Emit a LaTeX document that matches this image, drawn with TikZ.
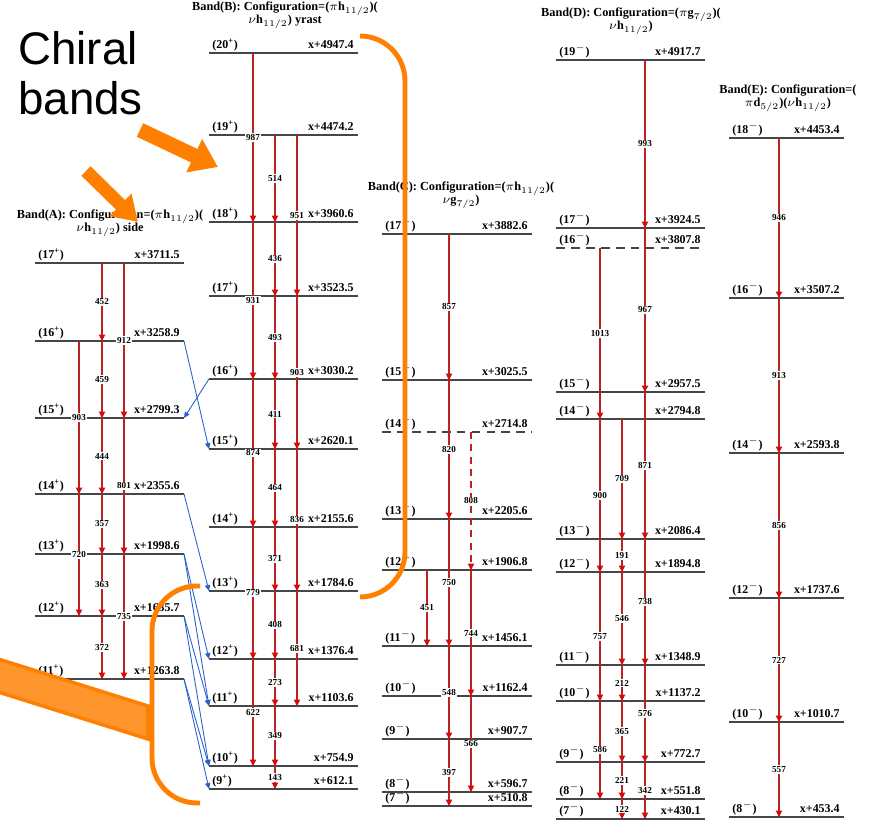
\documentclass[tikz,border=0pt]{standalone}
\usepackage{fontspec}
\setmainfont{Liberation Serif}
\setsansfont{Liberation Sans}
\usetikzlibrary{arrows.meta, calc}

\definecolor{lvlgray}{RGB}{70,70,70}
\definecolor{gamred}{RGB}{185,35,35}
\definecolor{tipred}{RGB}{215,10,10}
\definecolor{linkblue}{RGB}{40,95,205}
\definecolor{chiorange}{RGB}{255,128,0}
\definecolor{chilight}{RGB}{255,150,45}

% one level: band, left x, right x, parity, spin, y, energy, line style
\newcommand{\onelevel}[8]{%
  \coordinate (#1#5l) at (#2,#6);
  \coordinate (#1#5r) at (#3,#6);
  \draw[lvl,#8] (#1#5l) -- (#1#5r);
  \node[spin] (s#1#5) at ($(#1#5l)+(3,-4)$) {(#5\textsuperscript{#4})};
  \node[ener] (e#1#5) at ($(#1#5r)+(-4,-4)$) {x+#7};
}
\newcommand{\levels}[5]{%
  \foreach \n/\y/\E in {#5} {\onelevel{#1}{#2}{#3}{#4}{\n}{\y}{\E}{solid}}}
% gamma: column, band, from, to, energy
\newcommand{\gam}[6][]{%
  \draw[gam,#1] (#2 |- #3#4l) -- node[glab] (g#2-#4-#5) {#6} (#2 |- #3#5l);}

\begin{document}
\begin{tikzpicture}[x=0.02cm, y=-0.02cm,
  lvl/.style={draw=lvlgray, line width=0.8pt},
  spin/.style={font=\bfseries\fontsize{6.8}{8}\selectfont, inner sep=0, anchor=base west},
  ener/.style={font=\bfseries\fontsize{6.8}{8}\selectfont, inner sep=0, anchor=base east},
  gam/.style={draw=gamred, line width=0.6pt, -{Triangle[length=3.6pt,width=3.6pt,color=tipred]}},
  glab/.style={font=\bfseries\fontsize{5.2}{6}\selectfont, fill=white, inner sep=0.6pt},
  link/.style={draw=linkblue, line width=0.5pt, -{Triangle[length=3.4pt,width=3pt]}},
  head/.style={font=\bfseries\fontsize{7}{7.5}\selectfont, align=center, anchor=base, inner sep=0},
  brack/.style={draw=chiorange, line width=2.8pt, rounded corners=0.9cm},
  fat/.style={draw=chiorange, line width=#1}]
\useasboundingbox (0,0) rectangle (873,820);

% headers (anchored at the baseline of their second line)
\node[head] (hA) at (110,232) {Band(A): Configuration=(\(\pi\)h\(_{11/2}\))(\\\(\nu\)h\(_{11/2}\)) side};
\node[head] (hB) at (285,24) {Band(B): Configuration=(\(\pi\)h\(_{11/2}\))(\\\(\nu\)h\(_{11/2}\)) yrast};
\node[head] (hC) at (461,204) {Band(C): Configuration=(\(\pi\)h\(_{11/2}\))(\\\(\nu\)g\(_{7/2}\))};
\node[head] (hD) at (631,30) {Band(D): Configuration=(\(\pi\)g\(_{7/2}\))(\\\(\nu\)h\(_{11/2}\))};
\node[head] (hE) at (788,107) {Band(E): Configuration=(\\\(\pi\)d\(_{5/2}\))(\(\nu\)h\(_{11/2}\))};

% levels
\levels{A}{35}{184}{+}{17/263/3711.5, 16/341/3258.9, 15/418/2799.3, 14/494/2355.6,
  13/554/1998.6, 12/616/1635.7, 11/679/1263.8}
\levels{B}{209}{358}{+}{20/53/4947.4, 19/135/4474.2, 18/222/3960.6, 17/296/3523.5,
  16/379/3030.2, 15/449/2620.1, 14/527/2155.6, 13/591/1784.6, 12/659/1376.4,
  11/706/1103.6, 10/766/754.9, 9/789/612.1}
\levels{C}{382}{532}{$-$}{17/234/3882.6, 15/380/3025.5, 13/519/2205.6, 12/570/1906.8,
  11/646/1456.1, 10/696/1162.4, 9/739/907.7, 8/792/596.7, 7/806/510.8}
\onelevel{C}{382}{532}{$-$}{14}{432}{2714.8}{dash pattern=on 5pt off 3.5pt}
\levels{D}{556}{705}{$-$}{19/60/4917.7, 17/228/3924.5, 15/392/2957.5, 14/419/2794.8,
  13/539/2086.4, 12/572/1894.8, 11/665/1348.9, 10/701/1137.2, 9/762/772.7,
  8/799/551.8, 7/819/430.1}
\onelevel{D}{556}{705}{$-$}{16}{248}{3807.8}{dash pattern=on 5pt off 3.5pt}
\levels{E}{729}{844}{$-$}{18/138/4453.4, 16/298/3507.2, 14/453/2593.8, 12/598/1737.6,
  10/722/1010.7, 8/817/453.4}

% gamma columns
\coordinate (A1) at (79,0);  \coordinate (A2) at (102,0); \coordinate (A3) at (124,0);
\coordinate (B1) at (253,0); \coordinate (B2) at (275,0); \coordinate (B3) at (297,0);
\coordinate (C1) at (427,0); \coordinate (C2) at (449,0); \coordinate (C3) at (471,0);
\coordinate (D1) at (600,0); \coordinate (D2) at (622,0); \coordinate (D3) at (645,0);
\coordinate (E1) at (779,0);

% band A
\foreach \a/\b/\t in {17/16/452, 16/15/459, 15/14/444, 14/13/357, 13/12/363, 12/11/372}
  {\gam{A2}{A}{\a}{\b}{\t}}
\foreach \a/\b/\t in {17/15/912, 15/13/801, 13/11/735} {\gam{A3}{A}{\a}{\b}{\t}}
\foreach \a/\b/\t in {16/14/903, 14/12/720} {\gam{A1}{A}{\a}{\b}{\t}}

% band B
\foreach \a/\b/\t in {20/18/987, 18/16/931, 16/14/874, 14/12/779, 12/10/622}
  {\gam{B1}{B}{\a}{\b}{\t}}
\foreach \a/\b/\t in {19/18/514, 18/17/436, 17/16/493, 16/15/411, 15/14/464,
  14/13/371, 13/12/408, 12/11/273, 11/10/349, 10/9/143} {\gam{B2}{B}{\a}{\b}{\t}}
\foreach \a/\b/\t in {19/17/951, 17/15/903, 15/13/836, 13/11/681} {\gam{B3}{B}{\a}{\b}{\t}}

% band C
\foreach \a/\b/\t in {17/15/857, 15/13/820, 13/11/750, 11/9/548, 9/7/397}
  {\gam{C2}{C}{\a}{\b}{\t}}
\gam[dash pattern=on 4pt off 3pt]{C3}{C}{14}{12}{808}
\gam{C3}{C}{12}{10}{744}
\gam{C3}{C}{10}{8}{566}
\gam{C1}{C}{12}{11}{451}

% band D
\foreach \a/\b/\t in {19/17/993, 17/15/967, 15/13/871, 13/11/738, 11/9/576, 9/7/342}
  {\gam{D3}{D}{\a}{\b}{\t}}
\foreach \a/\b/\t in {16/14/1013, 14/12/900, 12/10/757, 10/8/586} {\gam{D1}{D}{\a}{\b}{\t}}
\foreach \a/\b/\t in {14/13/709, 13/12/191, 12/11/546, 11/10/212, 10/9/365, 9/8/221, 8/7/122}
  {\gam{D2}{D}{\a}{\b}{\t}}

% band E
\foreach \a/\b/\t in {18/16/946, 16/14/913, 14/12/856, 12/10/727, 10/8/557}
  {\gam{E1}{E}{\a}{\b}{\t}}

% links between A and B
\draw[link] (A16r) -- (B15l);
\draw[link] (B16l) -- (A15r);
\draw[link] (A14r) -- (B13l);
\draw[link] (A13r) -- (B12l);
\draw[link] (A13r) -- (B11l);
\draw[link] (A12r) -- (B11l);
\draw[link] (A12r) -- (B10l);
\draw[link] (A11r) -- (B10l);
\draw[link] (A11r) -- (B9l);

% orange notes
\node[font=\sffamily\fontsize{26}{28.5}\selectfont, align=left, anchor=base west, inner sep=0]
  (chir) at (18,115) {Chiral\\bands};
\coordinate (ar1s) at (140,130); \coordinate (ar1e) at (218,167);
\coordinate (ar2s) at (86,171);  \coordinate (ar2e) at (138,222);
\draw[fat=8.5pt, -{Triangle[length=15pt,width=20pt]}] (ar1s) -- (ar1e);
\draw[fat=7.5pt, -{Triangle[length=14pt,width=17pt]}] (ar2s) -- (ar2e);
\filldraw[fill=chilight, draw=chiorange, line width=2pt]
  (-5,658) -- (148,706) -- (148,739) -- (-5,691) -- cycle;
\draw[brack] (360,36) -- (405,36) -- (405,597) -- (360,597);
\draw[brack] (200,586) -- (152,586) -- (152,803) -- (200,803);
\end{tikzpicture}
\end{document}
